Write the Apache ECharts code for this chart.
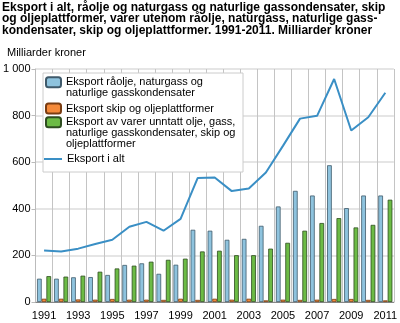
<!DOCTYPE html>
<html>
<head>
<meta charset="utf-8">
<script src="https://cdn.jsdelivr.net/npm/echarts@6/dist/echarts.min.js"></script>
<style>
  html, body { margin: 0; padding: 0; background: #fff; }
  #chart { width: 400px; height: 323px; }
</style>
</head>
<body>
<div id="chart"></div>
<script>
// Norwegian exports 1991-2011, billion NOK
const years = ['1991','1992','1993','1994','1995','1996','1997','1998','1999','2000',
               '2001','2002','2003','2004','2005','2006','2007','2008','2009','2010','2011'];
const crudeGas = [100,100,106,107,116,159,166,121,160,310,306,267,271,327,410,477,457,587,403,457,457];
const shipsPlatforms = [14,14,11,10,13,10,10,9,14,9,14,10,14,7,10,9,10,13,13,9,7];
const otherGoods = [111,109,113,130,144,156,173,181,186,217,220,201,201,229,254,306,339,360,320,331,439];
const totalExports = [221,217,229,249,267,323,344,306,357,532,534,476,487,556,670,787,799,957,736,793,898];
const yTicks = [0, 200, 400, 600, 800, 1000];

const seriesNames = [
  'Eksport råolje, naturgass og\nnaturlige gasskondensater',
  'Eksport skip og oljeplattformer',
  'Eksport av varer unntatt olje, gass,\nnaturlige gasskondensater, skip og\noljeplattformer',
  'Eksport i alt'
];

const font = 'Liberation Sans, Arial, sans-serif';
const chart = echarts.init(document.getElementById('chart'), null, { renderer: 'canvas' });

// One legend per entry so the swatch lines up with the first text line
function legendFor(name, top, opts) {
  const lines = name.split('\n').length;
  return Object.assign({
    show: true,
    orient: 'vertical',
    left: 45,
    top: top,
    padding: 0,
    itemWidth: 15,
    itemHeight: 10,
    itemGap: 0,
    selectedMode: false,
    data: [name],
    formatter: n => '\n'.repeat(lines - 1) + n,
    textStyle: { fontFamily: font, fontSize: 11, lineHeight: 11, color: '#000', padding: 0 },
    z: 5
  }, opts || {});
}

const barBase = { type: 'bar', barWidth: 4.7, barGap: '0%' };

chart.setOption({
  animation: false,
  title: [
    {
      text: 'Eksport i alt, råolje og naturgass og naturlige gassondensater, skip\nog oljeplattformer, varer utenom råolje, naturgass, naturlige gass-\nkondensater, skip og oljeplattformer. 1991-2011. Milliarder kroner',
      left: 2, top: 1.5, padding: 0,
      textStyle: { fontFamily: font, fontSize: 12, fontWeight: 'bold', lineHeight: 11.5, color: '#000' }
    },
    {
      text: 'Milliarder kroner',
      left: 7, top: 47, padding: 0,
      textStyle: { fontFamily: font, fontSize: 11, fontWeight: 'normal', color: '#000' }
    }
  ],
  graphic: {
    elements: [{
      type: 'rect', z: 3, silent: true,
      shape: { x: 43, y: 73, width: 200, height: 99 },
      style: { fill: '#fff', stroke: '#cccccc', lineWidth: 1 }
    }]
  },
  legend: [
    legendFor(seriesNames[0], 65.8),
    legendFor(seriesNames[1], 102.5),
    legendFor(seriesNames[2], 94.8),
    legendFor(seriesNames[3], 153.5, {
      left: 44, itemWidth: 18, itemHeight: 2,
      data: [{ name: seriesNames[3], icon: 'rect' }]
    })
  ],
  grid: { left: 32, right: 3, top: 69, bottom: 21, containLabel: false },
  xAxis: {
    type: 'category',
    data: years,
    boundaryGap: true,
    axisLine: { show: true, lineStyle: { color: '#888', width: 1 } },
    axisTick: { show: false },
    axisLabel: { interval: 1, fontFamily: font, fontSize: 11, color: '#000', margin: 8 },
    splitLine: { show: true, interval: 0, lineStyle: { color: '#c4c4c4', width: 1 } }
  },
  yAxis: {
    type: 'value',
    min: yTicks[0],
    max: yTicks[yTicks.length - 1],
    interval: 200,
    axisLine: { show: true, lineStyle: { color: '#bbb', width: 1 } },
    axisTick: { show: true, length: 4, lineStyle: { color: '#bbb' } },
    axisLabel: {
      fontFamily: font, fontSize: 11, color: '#000', margin: 5,
      formatter: v => v >= 1000 ? String(v).replace(/\B(?=(\d{3})+(?!\d))/g, ' ') : String(v)
    },
    splitLine: { show: true, lineStyle: { color: '#dddddd', width: 1.5 } }
  },
  series: [
    Object.assign({}, barBase, {
      name: seriesNames[0], data: crudeGas,
      itemStyle: { color: '#8ec3de', borderColor: '#3f5a6b', borderWidth: 0.8 }
    }),
    Object.assign({}, barBase, {
      name: seriesNames[1], data: shipsPlatforms,
      itemStyle: { color: '#f58a3a', borderColor: '#7a3d12', borderWidth: 0.8 }
    }),
    Object.assign({}, barBase, {
      name: seriesNames[2], data: otherGoods,
      itemStyle: { color: '#6cbb45', borderColor: '#2e4d20', borderWidth: 0.8 }
    }),
    {
      type: 'line', name: seriesNames[3], data: totalExports,
      symbol: 'none', showSymbol: false,
      lineStyle: { color: '#3a8fc5', width: 2 },
      itemStyle: { color: '#3a8fc5' },
      z: 2
    }
  ]
});
</script>
</body>
</html>
